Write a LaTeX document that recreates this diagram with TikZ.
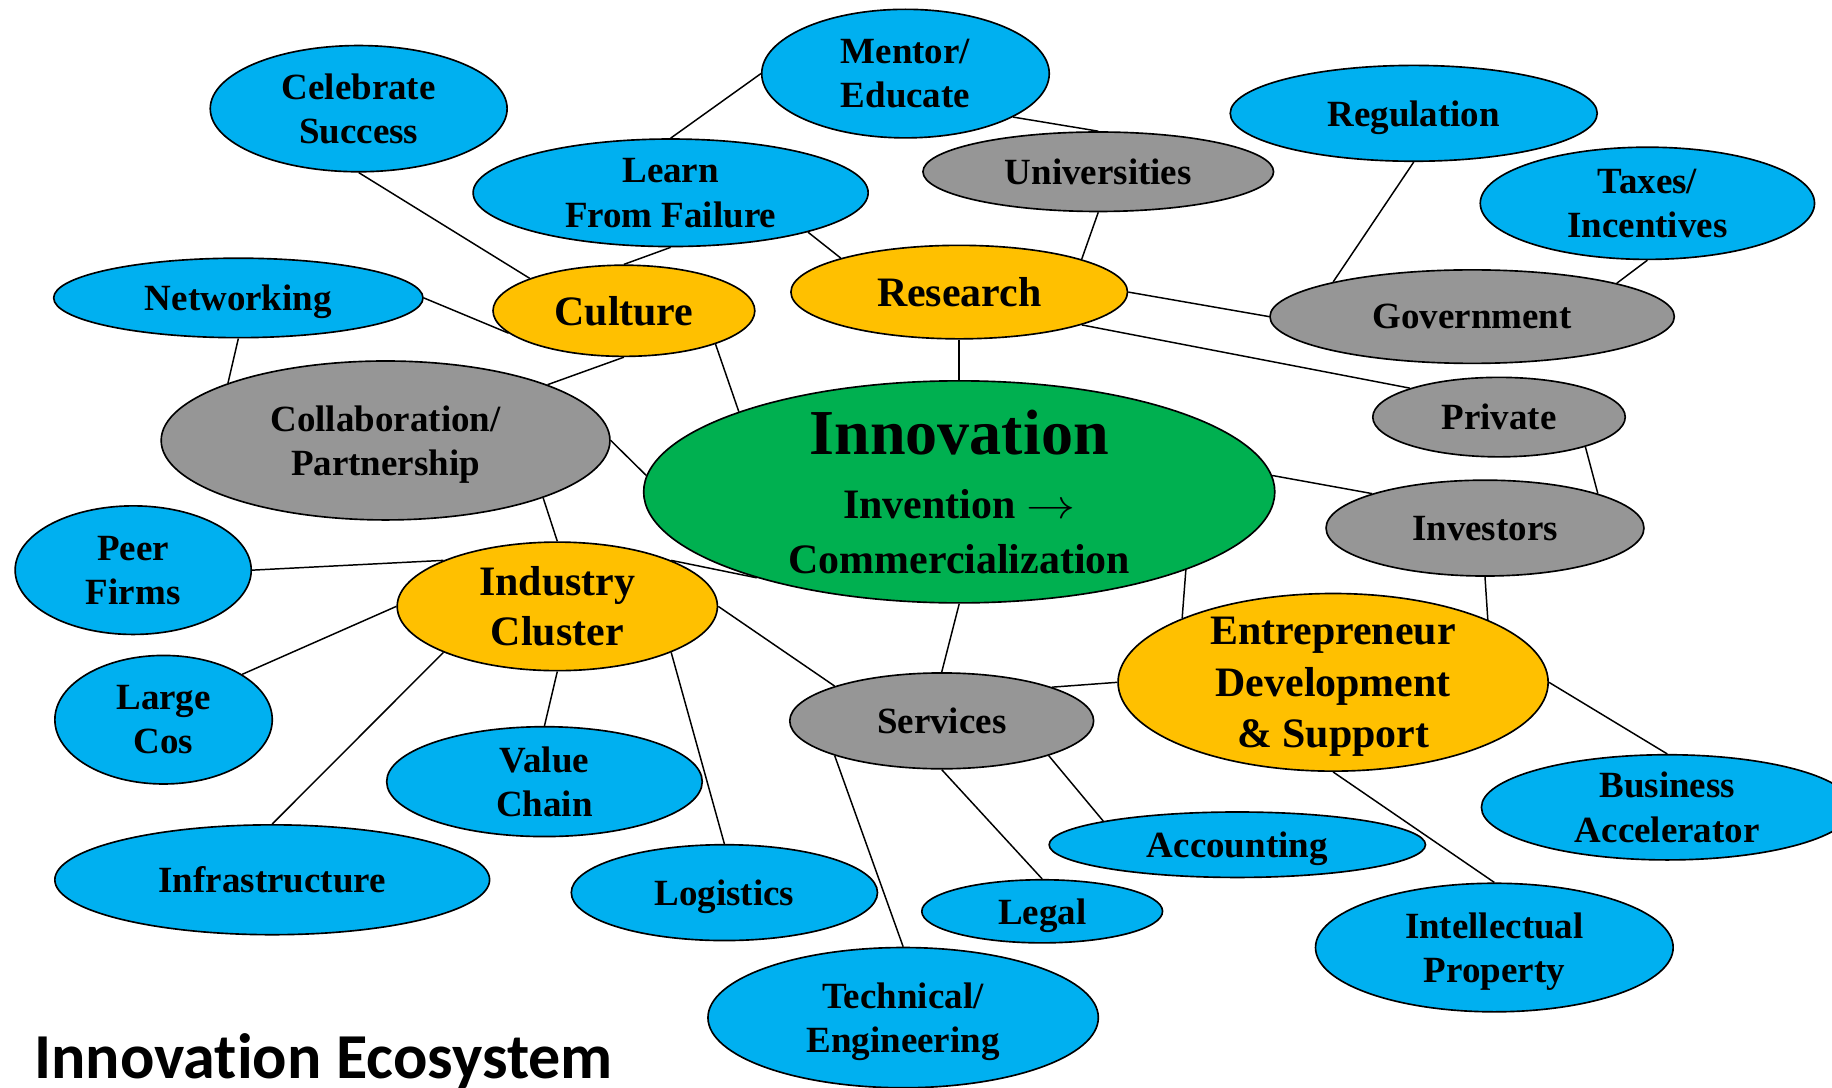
\documentclass[tikz,border=0pt]{standalone}
\usepackage{fontspec}
\usepackage{graphicx}
\setmainfont{Liberation Serif}
\newfontfamily\titlefont[Ligatures=NoCommon]{Carlito}
\usetikzlibrary{shapes.geometric,backgrounds}
\definecolor{skyblue}{RGB}{0,176,240}
\definecolor{gold}{RGB}{255,192,0}
\definecolor{midgray}{RGB}{150,150,150}
\definecolor{leafgreen}{RGB}{0,176,80}
\begin{document}
\begin{tikzpicture}[x=0.025cm,y=-0.025cm]
    \tikzstyle{blob}=[ellipse,draw=black,line width=1pt,inner sep=-0.8cm,align=center,text depth=0pt,
                      font=\bfseries\fontsize{22.5}{27}\selectfont]
    \tikzstyle{rad}=[minimum width=#1*0.05cm]
    \tikzstyle{tall}=[minimum height=#1*0.05cm]
    \tikzstyle{leaf}=[blob,fill=skyblue]
    \tikzstyle{hub}=[blob,fill=midgray]
    \tikzstyle{pillar}=[blob,fill=gold,font=\bfseries\fontsize{25.5}{30.5}\selectfont]
    \tikzstyle{link}=[draw=black,line width=0.9pt]
    \useasboundingbox (0,0) rectangle (1568,931);

    \node[leaf,rad=127,tall=54] (celebrate) at (307,93)  {Celebrate\\Success};
    \node[leaf,rad=123,tall=55] (mentor)    at (775,63)  {Mentor/\\Educate};
    \node[leaf,rad=169,tall=46] (learn)     at (574,165) {Learn\\From Failure};
    \node[hub, rad=150,tall=34] (univ)      at (940,147) {Universities};
    \node[leaf,rad=157,tall=41] (regul)     at (1210,97) {Regulation};
    \node[leaf,rad=143,tall=48] (taxes)     at (1410,174) {Taxes/\\Incentives};
    \node[leaf,rad=158,tall=34] (network)   at (204,255) {Networking};
    \node[pillar,rad=112,tall=39] (culture) at (534,266) {Culture};
    \node[pillar,rad=144,tall=40] (research) at (821,250) {Research};
    \node[hub, rad=173,tall=40] (gov)       at (1260,271) {Government};
    \node[hub, rad=192,tall=68] (collab)    at (330,377) {Collaboration/\\Partnership};
    \node[blob,fill=leafgreen,rad=270,tall=95,text depth=,font=\bfseries\fontsize{25.5}{33}\selectfont] (innov) at (821,421)
        {{\fontsize{39}{40}\selectfont Innovation}\\[6pt] Invention \scalebox{1.2}[1]{$\rightarrow$}\\Commercialization};
    \node[hub, rad=108,tall=34] (private)   at (1283,357) {Private};
    \node[hub, rad=136,tall=41] (investors) at (1271,452) {Investors};
    \node[leaf,rad=101,tall=55] (peer)      at (114,488) {Peer\\Firms};
    \node[pillar,rad=137,tall=55] (industry) at (477,519) {Industry\\Cluster};
    \node[leaf,rad=93, tall=55] (large)     at (140,616) {Large\\Cos};
    \node[hub, rad=130,tall=41] (services)  at (806,617) {Services};
    \node[pillar,rad=184,tall=76,font=\bfseries\fontsize{25.5}{31.5}\selectfont] (entre) at (1141,584)
        {Entrepreneur\\Development\\\& Support};
    \node[leaf,rad=135,tall=47] (value)     at (466,669) {Value\\Chain};
    \node[leaf,rad=159,tall=45] (business)  at (1427,691) {Business\\Accelerator};
    \node[leaf,rad=186,tall=47] (infra)     at (233,753) {Infrastructure};
    \node[leaf,rad=161,tall=28] (account)   at (1059,723) {Accounting};
    \node[leaf,rad=131,tall=41] (logist)    at (620,764) {Logistics};
    \node[leaf,rad=103,tall=27] (legal)     at (892,780) {Legal};
    \node[leaf,rad=153,tall=55] (intel)     at (1279,811) {Intellectual\\Property};
    \node[leaf,rad=167,tall=60] (tech)      at (773,871) {Technical/\\Engineering};

    \node[anchor=base west,inner sep=0pt,font=\titlefont\bfseries\fontsize{39}{40}\selectfont] (title) at (29,923)
        {Innovation Ecosystem};

    \begin{scope}[on background layer]
    \draw[link] (celebrate.south) -- (culture.161);
    \draw[link] (mentor.west)     -- (learn.north);
    \draw[link] (mentor.-22)      -- (univ.north);
    \draw[link] (learn.-16)       -- (research.164);
    \draw[link] (learn.south)     -- (culture.north);
    \draw[link] (network.east)    -- (culture.191);
    \draw[link] (network.south)   -- (collab.160);
    \draw[link] (culture.south)   -- (collab.19);
    \draw[link] (culture.-20)     -- (innov.160);
    \draw[link] (collab.east)     -- (innov.177);
    \draw[link] (collab.-20)      -- (industry.north);
    \draw[link] (research.south)  -- (innov.north);
    \draw[link] (univ.south)      -- (research.15);
    \draw[link] (research.east)   -- (gov.west);
    \draw[link] (research.-15)    -- (private.162);
    \draw[link] (regul.south)     -- (gov.166);
    \draw[link] (taxes.south)     -- (gov.13);
    \draw[link] (private.-19)     -- (investors.17);
    \draw[link] (innov.3)         -- (investors.163);
    \draw[link] (investors.south) -- (entre.22);
    \draw[link] (innov.-19)       -- (entre.157);
    \draw[link] (innov.south)     -- (services.north);
    \draw[link] (services.17)     -- (entre.west);
    \draw[link] (services.-18)    -- (account.170);
    \draw[link] (services.south)  -- (legal.north);
    \draw[link] (services.198)    -- (tech.north);
    \draw[link] (entre.south)     -- (intel.north);
    \draw[link] (entre.east)      -- (business.north);
    \draw[link] (peer.east)       -- (industry.158);
    \draw[link] (industry.22)     -- (innov.203);
    \draw[link] (industry.west)   -- (large.30);
    \draw[link] (industry.202)    -- (infra.north);
    \draw[link] (industry.south)  -- (value.north);
    \draw[link] (industry.-22)    -- (logist.north);
    \draw[link] (industry.east)   -- (services.162);
    \end{scope}
\end{tikzpicture}
\end{document}
